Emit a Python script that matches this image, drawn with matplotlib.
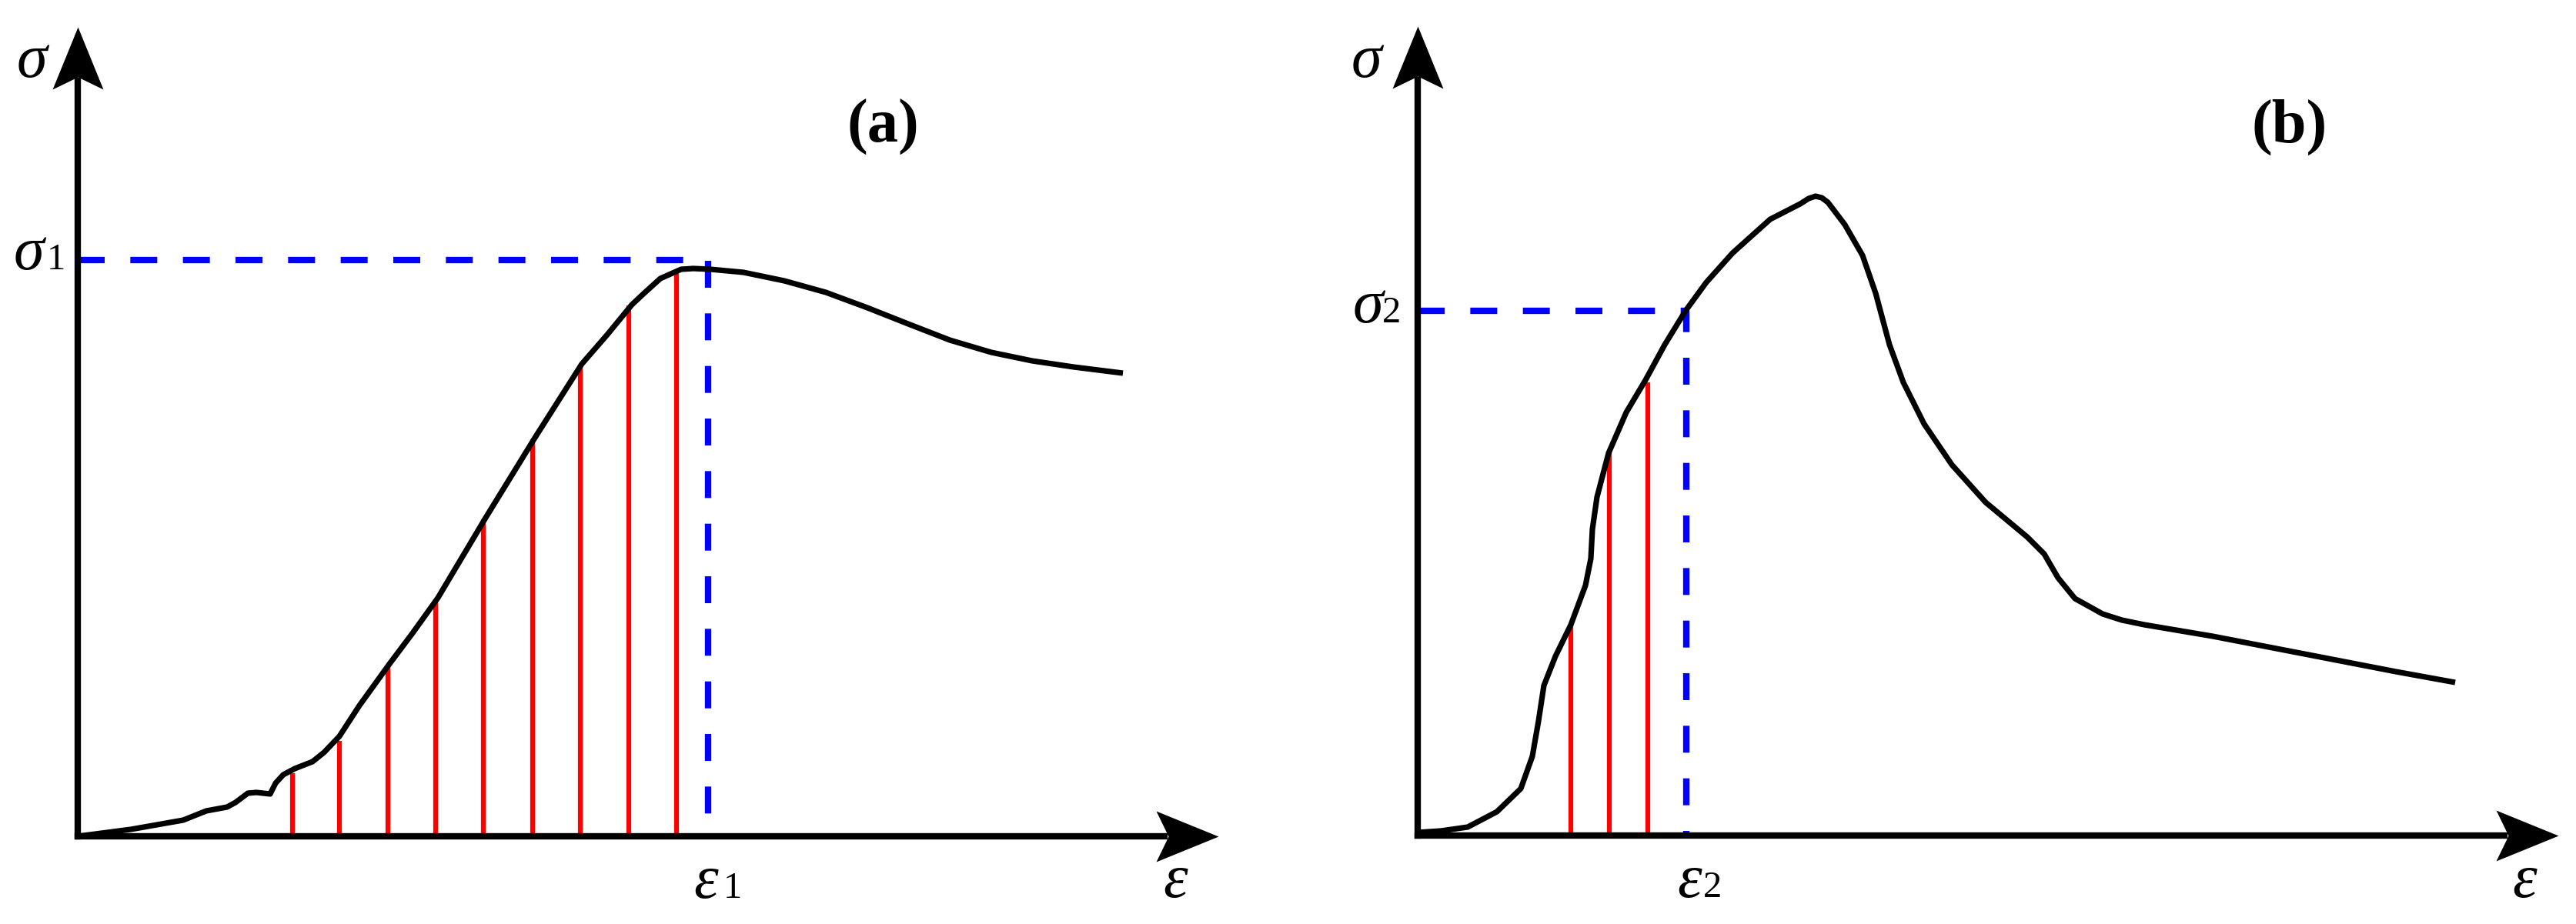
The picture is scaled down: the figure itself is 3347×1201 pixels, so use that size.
import numpy as np
import matplotlib
matplotlib.use("Agg")
import matplotlib.pyplot as plt
from matplotlib.path import Path

# ---- data (arbitrary strain / stress units) ----
# panel (a): hardening curve
strain_a = [0.0, 0.69, 1.37, 1.67, 1.94, 2.05, 2.21, 2.32, 2.50, 2.57, 2.67, 2.82,
            3.05, 3.20, 3.40, 3.66, 4.05, 4.35, 4.68, 5.30, 5.94, 6.55, 6.88, 7.20,
            7.36, 7.57, 7.84, 8.00, 8.22, 8.65, 9.18, 9.72, 10.26, 10.79, 11.33,
            11.87, 12.40, 12.94, 13.58]
stress_a = [0.0, 0.09, 0.21, 0.33, 0.38, 0.44, 0.56, 0.57, 0.55, 0.69, 0.80, 0.88,
            0.97, 1.09, 1.30, 1.70, 2.24, 2.64, 3.10, 4.14, 5.18, 6.14, 6.52, 6.91,
            7.06, 7.25, 7.37, 7.38, 7.37, 7.33, 7.22, 7.07, 6.87, 6.66, 6.45,
            6.29, 6.18, 6.10, 6.02]
red_x_a = [2.79, 3.40, 4.03, 4.65, 5.27, 5.91, 6.53, 7.16, 7.78]
red_top_a = [0.82, 1.24, 2.22, 3.08, 4.12, 5.16, 6.12, 6.90, 7.33]
sigma1 = 7.49
eps1 = 8.19

# panel (b): softening curve
strain_b = [0.0, 0.30, 0.65, 1.03, 1.34, 1.49, 1.57, 1.64, 1.79, 1.99, 2.18, 2.25,
            2.27, 2.33, 2.48, 2.71, 2.96, 3.21, 3.48, 3.75, 4.09, 4.58, 4.97, 5.08,
            5.17, 5.25, 5.33, 5.55, 5.78, 5.95, 6.13, 6.31, 6.58, 6.94, 7.38, 7.92,
            8.14, 8.32, 8.54, 8.90, 9.15, 9.44, 10.33, 11.47, 12.71, 13.48]
stress_b = [0.04, 0.06, 0.11, 0.31, 0.61, 1.03, 1.49, 1.95, 2.33, 2.74, 3.25, 3.60,
            3.98, 4.40, 4.97, 5.50, 5.92, 6.38, 6.82, 7.19, 7.57, 8.01, 8.21, 8.28,
            8.31, 8.29, 8.23, 7.94, 7.54, 7.05, 6.38, 5.89, 5.35, 4.82, 4.33, 3.88,
            3.66, 3.35, 3.08, 2.88, 2.80, 2.74, 2.59, 2.37, 2.13, 1.99]
red_x_b = [1.99, 2.49, 2.99]
red_top_b = [2.74, 4.98, 5.89]
sigma2 = 6.82
eps2 = 3.49

axis_tip_x = 14.82
axis_tip_y = 10.52

plt.rcParams['font.family'] = ['Liberation Serif', 'DejaVu Serif']

fig = plt.figure(figsize=(33.47, 12.01), dpi=100)

# arrow head marker with a notch, tip at (0,0)
head_right = Path([(0, 0), (-81, 33), (-65, 0), (-81, -33), (0, 0)],
                  [Path.MOVETO, Path.LINETO, Path.LINETO, Path.LINETO, Path.CLOSEPOLY])
head_up = Path([(0, 0), (-33, -81), (0, -65), (33, -81), (0, 0)],
               [Path.MOVETO, Path.LINETO, Path.LINETO, Path.LINETO, Path.CLOSEPOLY])
HEAD_MS = 116.6


def draw_axes(ax):
    ax.plot([0, axis_tip_x - 0.7], [0, 0], color='black', lw=6,
            solid_capstyle='projecting', zorder=4)
    ax.plot([0, 0], [0, axis_tip_y - 0.7], color='black', lw=6,
            solid_capstyle='projecting', zorder=4)
    ax.plot([axis_tip_x], [0], marker=head_right, ms=HEAD_MS, color='black',
            mew=0, zorder=5)
    ax.plot([0], [axis_tip_y], marker=head_up, ms=HEAD_MS, color='black',
            mew=0, zorder=5)


def greek(ax, x, y, s):
    ax.text(x, y, s, fontsize=58, style='italic', ha='center', va='baseline')


def digit(ax, x, y, s):
    ax.text(x, y, s, fontsize=35, ha='left', va='baseline')


# ---- panel (a) ----
ax1 = fig.add_axes([0, 0, 0.5, 1])
ax1.set_xlim(-1.01, 15.725)
ax1.set_ylim(-1.14, 10.87)
ax1.axis('off')
draw_axes(ax1)
ax1.vlines(red_x_a, 0, red_top_a, colors='#ff0000', lw=4.5, zorder=2)
ax1.plot([0, eps1, eps1], [sigma1, sigma1, 0], color='#0000ff', lw=6,
         dashes=(4.2, 4.0), zorder=2)
ax1.plot(strain_a, stress_a, color='black', lw=5.2, solid_joinstyle='round',
         solid_capstyle='butt', zorder=3)
greek(ax1, -0.60, 9.87, 'σ')
greek(ax1, -0.64, 7.37, 'σ')
digit(ax1, -0.40, 7.37, '1')
greek(ax1, 14.26, -0.79, 'ε')
greek(ax1, 8.16, -0.80, 'ε')
digit(ax1, 8.39, -0.80, '1')
ax1.text(10.46, 9.02, '(a)', fontsize=58, fontweight='bold', ha='center',
         va='baseline')

# ---- panel (b) ----
ax2 = fig.add_axes([0.5, 0, 0.5, 1])
ax2.set_xlim(-1.685, 15.05)
ax2.set_ylim(-1.15, 10.86)
ax2.axis('off')
draw_axes(ax2)
ax2.vlines(red_x_b, 0, red_top_b, colors='#ff0000', lw=4.5, zorder=2)
ax2.plot([0, eps2, eps2], [sigma2, sigma2, 0], color='#0000ff', lw=6,
         dashes=(4.2, 4.0), zorder=2)
ax2.plot(strain_b, stress_b, color='black', lw=5.2, solid_joinstyle='round',
         solid_capstyle='butt', zorder=3)
greek(ax2, -0.67, 9.86, 'σ')
greek(ax2, -0.65, 6.67, 'σ')
digit(ax2, -0.46, 6.67, '2')
greek(ax2, 14.38, -0.80, 'ε')
greek(ax2, 3.53, -0.80, 'ε')
digit(ax2, 3.71, -0.80, '2')
ax2.text(11.33, 9.01, '(b)', fontsize=58, fontweight='bold', ha='center',
         va='baseline')

fig.savefig('out.png', dpi=100, facecolor='white')
